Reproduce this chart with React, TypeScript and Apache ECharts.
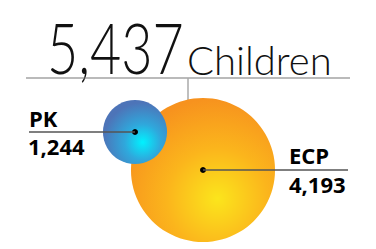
import React, { useEffect, useRef } from "react";
import * as echarts from "echarts";

const categories: string[] = ["PK", "ECP"];
const values: number[] = [1244, 4193];
const totalWord = "Children";

// layout (pixels)
const W = 376;
const H = 249;
const centers: number[][] = [
  [135, 132],
  [203, 170],
];

const fmt = (v: number) => v.toLocaleString("en-US");
const radius = (v: number) => 0.277 * Math.pow(v, 2 / 3);

const gradients = [
  {
    type: "radial",
    x: 0.62,
    y: 0.66,
    r: 0.62,
    colorStops: [
      { offset: 0, color: "#00f2ff" },
      { offset: 0.45, color: "#2fa8dc" },
      { offset: 1, color: "#4d74b8" },
    ],
  },
  {
    type: "radial",
    x: 0.6,
    y: 0.7,
    r: 0.7,
    colorStops: [
      { offset: 0, color: "#fbe51c" },
      { offset: 0.5, color: "#fbb51c" },
      { offset: 1, color: "#f7921e" },
    ],
  },
];

export default function App() {
  const ref = useRef<HTMLDivElement>(null);
  useEffect(() => {
    document.body.style.margin = "0";
    const chart = echarts.init(ref.current!, undefined, { renderer: "svg" });
    const total = values.reduce((a, b) => a + b, 0);
    const rE = radius(values[1]);
    const lineStyle = { stroke: "#555", lineWidth: 1.5 };
    const labelFont = "bold 22px 'Open Sans', sans-serif";
    // larger bubbles drawn first so smaller ones sit on top
    const order = values.map((_, i) => i).sort((a, b) => values[b] - values[a]);
    chart.setOption({
      animation: false,
      grid: { left: 0, right: 0, top: 0, bottom: 0 },
      xAxis: { type: "value", min: 0, max: W, show: false },
      yAxis: { type: "value", min: 0, max: H, inverse: true, show: false },
      series: [
        {
          type: "scatter",
          z: 2,
          data: order.map((i) => ({
            name: categories[i],
            value: [centers[i][0], centers[i][1], values[i]],
            symbolSize: radius(values[i]) * 2,
            itemStyle: { color: gradients[i], opacity: 1 },
          })),
        },
        {
          type: "scatter",
          z: 3,
          symbolSize: 6,
          itemStyle: { color: "#000", opacity: 1 },
          data: values.map((v, i) => [centers[i][0], centers[i][1]]),
        },
      ],
      graphic: [
        { type: "line", z: 1, shape: { x1: 26, y1: 78, x2: 350, y2: 78 }, style: { stroke: "#777", lineWidth: 1.2 } },
        { type: "line", z: 1, shape: { x1: 188, y1: 78, x2: 188, y2: centers[1][1] - rE + 2 }, style: { stroke: "#aaa", lineWidth: 1.5 } },
        {
          type: "text",
          x: 47,
          y: 82,
          scaleX: 0.77,
          style: { text: fmt(total), font: "300 70px Lato, sans-serif", fill: "#111", textVerticalAlign: "bottom" },
        },
        {
          type: "text",
          x: 187,
          y: 80,
          style: { text: totalWord, font: "300 40px Lato, sans-serif", fill: "#111", textVerticalAlign: "bottom" },
        },
        { type: "line", z: 10, shape: { x1: 29, y1: centers[0][1], x2: centers[0][0], y2: centers[0][1] }, style: lineStyle },
        { type: "text", z: 10, x: 29, y: 129, style: { text: categories[0], font: labelFont, fill: "#000", textVerticalAlign: "bottom" } },
        { type: "text", z: 10, x: 28, y: 135, style: { text: fmt(values[0]), font: labelFont, fill: "#000", textVerticalAlign: "top" } },
        { type: "line", z: 10, shape: { x1: centers[1][0], y1: centers[1][1], x2: 348, y2: centers[1][1] }, style: lineStyle },
        { type: "text", z: 10, x: 289, y: 166, style: { text: categories[1], font: labelFont, fill: "#000", textVerticalAlign: "bottom" } },
        { type: "text", z: 10, x: 289, y: 173, style: { text: fmt(values[1]), font: labelFont, fill: "#000", textVerticalAlign: "top" } },
      ],
    });
    return () => chart.dispose();
  }, []);
  return <div ref={ref} style={{ width: W, height: H }} />;
}
